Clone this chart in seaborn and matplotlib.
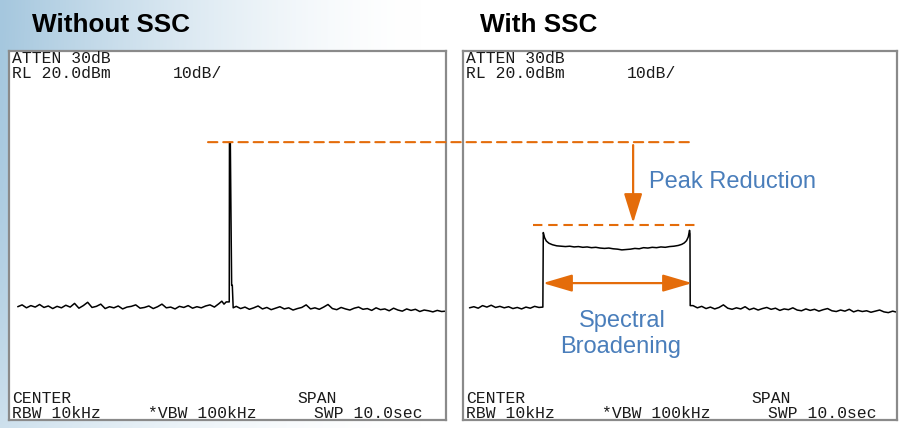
import numpy as np
import pandas as pd
import matplotlib
matplotlib.use("Agg")
import matplotlib.pyplot as plt
import seaborn as sns
from matplotlib.patches import ConnectionPatch

# ---------------- data (x: % of span from centre, y: level in dBm) ----------------
left_noise_lo_x = np.arange(-48, -1)          # -48 .. -2
left_noise_lo_y = [-49.3, -48.8, -49.6, -49.0, -49.4, -48.7, -49.5, -49.1, -49.8, -49.2,
                   -49.6, -48.9, -49.4, -48.4, -49.7, -49.0, -48.1, -49.5, -49.2, -48.6,
                   -49.8, -49.3, -49.6, -49.1, -49.9, -49.4, -49.2, -48.8, -49.7, -49.5,
                   -49.1, -49.8, -49.3, -48.6, -49.6, -49.4, -49.9, -49.2, -49.5, -49.0,
                   -49.7, -49.3, -49.6, -49.1, -48.8, -49.4, -48.5]
left_peak_x = [-1.3, -0.8, -0.3, 0.4, 0.45, 0.65, 0.8, 0.95, 1.1, 1.3]
left_peak_y = [-47.8, -48.6, -48.0, -48.0, -4.9, -4.9, -25.0, -43.5, -43.5, -49.6]
left_noise_hi_x = np.arange(2, 51)            # 2 .. 50
left_noise_hi_y = [-49.2, -49.8, -49.4, -50.0, -49.6, -49.1, -49.9, -49.5, -50.1, -49.7,
                   -49.3, -49.9, -49.6, -50.2, -49.8, -49.5, -48.8, -49.9, -49.6, -50.0,
                   -49.4, -48.7, -49.8, -50.1, -49.5, -49.9, -50.2, -49.7, -49.4, -50.0,
                   -49.8, -50.3, -49.6, -50.1, -49.9, -50.4, -49.7, -50.2, -50.5, -49.9,
                   -50.3, -50.0, -50.6, -50.2, -50.4, -50.7, -50.3, -50.6, -50.5]

right_noise_lo_x = np.arange(-48.5, -32.0, 1.0)   # -48.5 .. -32.5
right_noise_lo_y = [-49.6, -49.3, -49.7, -49.0, -49.4, -48.9, -49.5, -49.2, -49.6, -49.3,
                    -49.8, -49.5, -49.9, -49.4, -49.7, -49.2, -49.5]
ssc_x = [-31.6, -31.5, -31.2, -30.8, -30.2, -29.4, -28.4, -27.4, -26.4, -25.4, -24.4,
         -23.4, -22.4, -21.4, -20.4, -19.4, -18.4, -17.4, -16.4, -15.4, -14.4, -13.4,
         -12.4, -11.4, -10.4, -9.4, -8.4, -7.4, -6.4, -5.4, -4.4, -3.4, -2.4, -1.4,
         -0.4, 0.4, 1.0, 1.5, 1.9, 2.2, 2.3, 2.35]
ssc_y = [-49.4, -29.2, -30.6, -31.5, -32.1, -32.5, -32.8, -32.9, -33.0, -32.9, -33.1,
         -33.0, -33.2, -33.1, -33.3, -33.2, -33.4, -33.5, -33.4, -33.6, -33.7, -33.9,
         -33.8, -33.7, -33.5, -33.6, -33.3, -33.4, -33.2, -33.3, -33.1, -33.2, -33.0, -32.9,
         -32.7, -32.4, -32.0, -31.4, -30.4, -28.6, -29.5, -49.0]
right_noise_hi_x = np.arange(3, 51)           # 3 .. 50
right_noise_hi_y = [-49.0, -49.6, -49.2, -49.8, -49.4, -49.9, -49.5, -48.8, -49.7, -50.0,
                    -49.6, -49.9, -49.3, -50.1, -49.7, -50.2, -49.8, -49.5, -50.0, -49.7,
                    -50.3, -49.9, -50.1, -49.6, -50.2, -50.4, -49.9, -50.3, -50.0, -50.5,
                    -50.1, -49.8, -50.4, -50.6, -50.2, -50.5, -50.0, -50.7, -50.3, -50.6,
                    -50.4, -50.8, -50.5, -50.2, -50.7, -50.9, -50.5, -50.8]

peak_level_no_ssc = -4.7      # dashed reference line (no SSC peak)
peak_level_ssc = -27.2        # dashed reference line (SSC peak)
arrow_v_x = -10.8
arrow_v_from, arrow_v_to = -5.5, -26.6
broad_y = -42.9
broad_from, broad_to = -31.6, 2.8

titles = ["Without SSC", "With SSC"]
hdr1, hdr2, div = "ATTEN 30dB", "RL 20.0dBm", "10dB/"
ftr_center, ftr_span = "CENTER", "SPAN"
ftr_rbw, ftr_vbw, ftr_swp = "RBW 10kHz", "*VBW 100kHz", "SWP 10.0sec"

# ---------------- figure ----------------
W, H = 905, 428
fig = plt.figure(figsize=(W / 100, H / 100), dpi=100)
sns.set_style("white")
plt.rcParams["font.family"] = ["Liberation Sans", "DejaVu Sans"]

def fx(px):
    return px / W

def fy(py):
    return 1 - py / H

# background gradient (light blue on the left fading smoothly to white)
bg = fig.add_axes([0, 0, 1, 1], zorder=-10)
xx, yy = np.meshgrid(np.linspace(0, W, 300), np.linspace(0, H, 150))
inten = np.clip(1 - xx / 420, 0, 1) ** 1.6 * (1 - 0.45 * (yy / H) ** 2)
base = np.array([165, 199, 222]) / 255.0
img = (1 - inten[..., None]) * 1.0 + inten[..., None] * base[None, None, :]
bg.imshow(img, extent=[0, 1, 0, 1], aspect="auto", origin="upper")
bg.axis("off")

orange = "#E46C0A"
blue = "#4A7EBB"
gray = "#8a8a8a"
txtc = "#1a1a1a"

top, bot = 51, 420
axL = fig.add_axes([fx(9), fy(bot), 437 / W, (bot - top) / H])
axR = fig.add_axes([fx(463), fy(bot), 434 / W, (bot - top) / H])

dfL = pd.DataFrame({
    "x": list(left_noise_lo_x) + left_peak_x + list(left_noise_hi_x),
    "y": left_noise_lo_y + left_peak_y + left_noise_hi_y,
})
dfR = pd.DataFrame({
    "x": list(right_noise_lo_x) + ssc_x + list(right_noise_hi_x),
    "y": right_noise_lo_y + ssc_y + right_noise_hi_y,
})

for ax, df in ((axL, dfL), (axR, dfR)):
    sns.lineplot(data=df, x="x", y="y", ax=ax, sort=False, estimator=None,
                 color="black", lw=1.1)
    ax.set_xlim(-50, 50)
    ax.set_ylim(-80, 20)
    ax.set_xticks([])
    ax.set_yticks([])
    ax.set_xlabel("")
    ax.set_ylabel("")
    ax.set_facecolor("white")
    for s in ax.spines.values():
        s.set_color(gray)
        s.set_linewidth(1.6)
        s.set_visible(True)

# titles
fig.text(fx(32), fy(32), titles[0], fontsize=18.8, fontweight="bold",
         color="black", va="baseline", ha="left")
fig.text(fx(480), fy(32), titles[1], fontsize=18.8, fontweight="bold",
         color="black", va="baseline", ha="left")

# instrument annotations
mono = dict(family="Liberation Mono", fontsize=11.8, color=txtc, va="baseline", ha="left")
for off in (0, 454):
    fig.text(fx(12 + off), fy(63), hdr1, **mono)
    fig.text(fx(12 + off), fy(78), hdr2, **mono)
    fig.text(fx(173 + off), fy(78), div, **mono)
    fig.text(fx(12 + off), fy(403), ftr_center, **mono)
    fig.text(fx(297 + off), fy(403), ftr_span, **mono)
    fig.text(fx(12 + off), fy(418), ftr_rbw, **mono)
    fig.text(fx(148 + off), fy(418), ftr_vbw, **mono)
    fig.text(fx(314 + off), fy(418), ftr_swp, **mono)

# orange dashed reference lines
dash = (0, (4.5, 2.8))
con = ConnectionPatch(xyA=(-4.46, peak_level_no_ssc), coordsA=axL.transData,
                      xyB=(2.3, peak_level_no_ssc), coordsB=axR.transData,
                      color=orange, lw=1.5, linestyle=dash)
fig.add_artist(con)
axR.plot([-33.9, 3.7], [peak_level_ssc, peak_level_ssc], color=orange, lw=1.5,
         linestyle=dash)

# arrows
axR.annotate("", xy=(arrow_v_x, arrow_v_to), xytext=(arrow_v_x, arrow_v_from),
             arrowprops=dict(arrowstyle="-|>,head_length=1.8,head_width=0.56",
                             color=orange, lw=1.6, mutation_scale=10,
                             shrinkA=0, shrinkB=0))
axR.annotate("", xy=(broad_to, broad_y), xytext=(broad_from, broad_y),
             arrowprops=dict(arrowstyle="<|-|>,head_length=1.8,head_width=0.53",
                             color=orange, lw=1.6, mutation_scale=10,
                             shrinkA=0, shrinkB=0))

# annotation labels
fig.text(fx(649), fy(188), "Peak Reduction", fontsize=17, color=blue,
         va="baseline", ha="left")
fig.text(fx(622), fy(327), "Spectral", fontsize=17, color=blue,
         va="baseline", ha="center")
fig.text(fx(621), fy(353), "Broadening", fontsize=17, color=blue,
         va="baseline", ha="center")

fig.savefig("out.png", dpi=100)
